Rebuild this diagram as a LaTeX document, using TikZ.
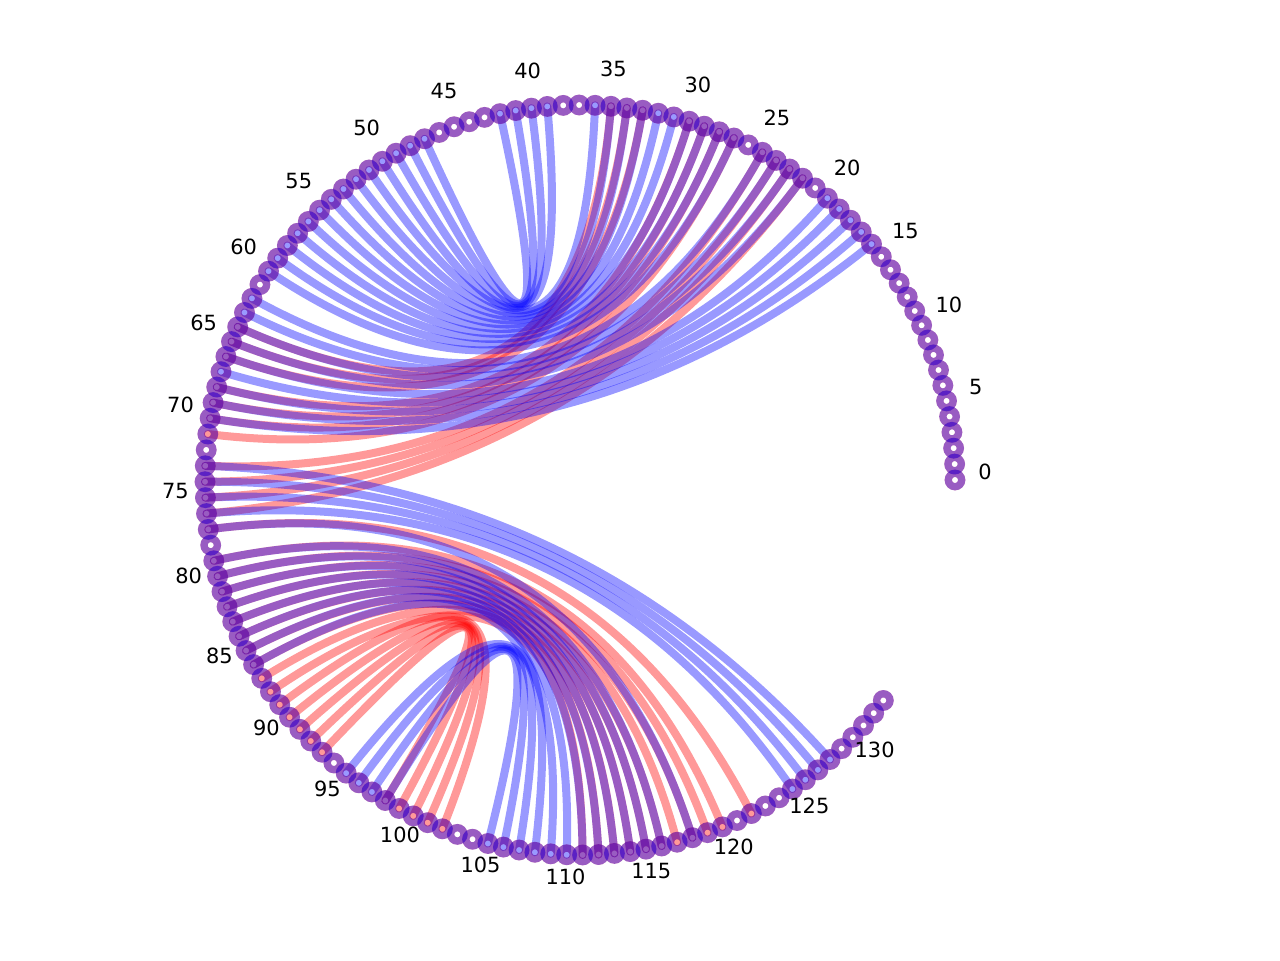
\documentclass[tikz,border=0pt]{standalone}
\usepackage{fontspec}
\setmainfont{DejaVu Sans}
\usetikzlibrary{calc}
\tikzset{
  refarc/.style={draw=blue,draw opacity=.4,line width=.16cm,line cap=round},
  predarc/.style={draw=red,draw opacity=.4,line width=.16cm,line cap=round},
  refring/.style={draw=blue,draw opacity=.4,line width=.146cm},
  predring/.style={draw=red,draw opacity=.4,line width=.146cm},
  idxlabel/.style={font=\fontsize{11.9}{14}\selectfont,inner sep=0pt}
}
% arc between two bases, bent towards the centre
\newcommand{\pairarc}[3]{\draw[#1] (n#2) .. controls ($(n#2)!2/3!(o)$) and ($(n#3)!2/3!(o)$) .. (n#3);}

\begin{document}
\begin{tikzpicture}[x=0.02cm,y=0.02cm]
  \useasboundingbox (-580,-480) rectangle (700,480);
  \coordinate (o) at (0,0);
  \foreach \i in {0,...,133}
    \coordinate (n\i) at ({\i*2.436}:375);

  % predicted pairs
  \foreach \a/\b in {22/76,23/75,24/74,25/73,27/71,28/70,29/69,30/68,33/66,34/65,35/64,77/122,
      79/120,80/119,81/118,82/117,83/116,84/115,85/114,86/113,87/112,88/111,
      89/102,90/101,91/100,92/99,93/98}
    {\pairarc{predarc}{\a}{\b}}

  % reference pairs
  \foreach \a/\b in {42/47,41/48,40/49,39/50,36/51,35/52,34/53,33/54,32/55,31/56,30/57,29/58,28/59,27/60,
      25/62,24/63,23/64,22/65,20/66,19/67,18/68,17/69,16/70,
      73/128,74/127,75/126,76/125,77/118,
      79/116,80/115,81/114,82/113,83/112,84/111,85/110,86/109,95/108,96/107,97/106,98/105}
    {\pairarc{refarc}{\a}{\b}}

  \foreach \i in {0,...,133}
    \draw[predring] (n\i) circle[radius=0.134cm];
  \foreach \i in {0,...,133}
    \draw[refring] (n\i) circle[radius=0.134cm];

  \foreach \i in {0,5,...,130}
    \node[idxlabel] (l\i) at ($({\i*2.436}:405)+(0,8)$) {\i};
\end{tikzpicture}
\end{document}
